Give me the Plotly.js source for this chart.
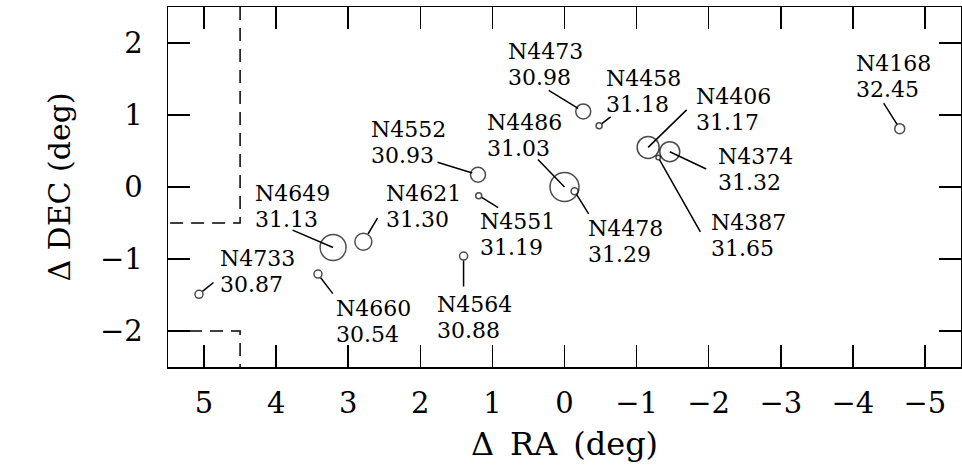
<!DOCTYPE html>
<html>
<head>
<meta charset="utf-8">
<script src="https://cdn.plot.ly/plotly-3.0.1.min.js"></script>
<style>
  html, body { margin: 0; padding: 0; background: #fff; }
  #chart { width: 962px; height: 466px; }
</style>
</head>
<body>
<div id="chart"></div>
<script>
// Galaxies around M87: offsets in RA / DEC (deg) from N4486
const galaxy = ['N4486','N4478','N4551','N4552','N4649','N4621','N4473','N4458',
                'N4406','N4374','N4387','N4168','N4733','N4660','N4564'];
const distMod = ['31.03','31.29','31.19','30.93','31.13','31.30','30.98','31.18',
                 '31.17','31.32','31.65','32.45','30.87','30.54','30.88'];
const dRA  = [0.00, -0.14, 1.19, 1.20, 3.21, 2.79, -0.26, -0.48,
              -1.16, -1.46, -1.30, -4.65, 5.07, 3.42, 1.40];
const dDEC = [0.00, -0.06, -0.12, 0.17, -0.84, -0.76, 1.05, 0.85,
              0.55, 0.49, 0.41, 0.81, -1.49, -1.21, -0.96];
// circle diameter used for each galaxy symbol (px)
const symbolSize = [29, 7, 6, 15, 26, 17, 15, 6, 22, 20, 4.5, 10, 8, 8, 8];

// survey boundary (dashed)
const edgeUpperRA  = [4.5, 4.5, 5.5];
const edgeUpperDEC = [2.5, -0.5, -0.5];
const edgeLowerRA  = [5.5, 4.5, 4.5];
const edgeLowerDEC = [-2.0, -2.0, -2.5];

const xTicks = [5, 4, 3, 2, 1, 0, -1, -2, -3, -4, -5];
const yTicks = [-2, -1, 0, 1, 2];

// label placement, px relative to the galaxy: [dx, dy] of the name's top-left
const labelAt = [[-78,-72],[13,30],[1,19],[-107,-52],[-78,-61],[23,-55],[-75,-67],[7,-54],
                 [48,-58],[48,-2],[53,58],[-44,-72],[21,-43],[18,27],[-27,41]];
// leader lines: [ax, ay] of the label end, and gap left at the galaxy end
const leaderTail = [[-28,-29],[15,24],[21,13],[-42,-13],[-42,-18],[15,-25],[-36,-22],[13,-10],
                    [40,-39],[38,18],[43,76],[-17,-27],[16,-13],[16,21],[0,32]];
const leaderGap = [0, 4, 3.5, 6, 0, 9, 6, 3.5, 0, 0, 2.5, 5, 4.5, 4.5, 4.5];

const serif = 'DejaVu Serif';
const ink = '#000';

const traces = [
  { x: edgeUpperRA, y: edgeUpperDEC, mode: 'lines', hoverinfo: 'skip',
    line: { color: ink, width: 1.5, dash: '13px,8px' } },
  { x: edgeLowerRA, y: edgeLowerDEC, mode: 'lines', hoverinfo: 'skip',
    line: { color: ink, width: 1.5, dash: '13px,8px' } },
  { x: dRA, y: dDEC, text: galaxy, mode: 'markers',
    marker: { symbol: 'circle-open', size: symbolSize, color: ink,
              line: { color: ink, width: 1.5 } } }
];

// two-line labels: glyphs at 22px, lines stepped just over one text box apart
// (line step is 1.3 x the annotation font size, so that size is step / 1.3)
const labelGlyph = 22;
const labelStep = 25.8;
const capOffset = 5.4;   // box top to cap top for the label glyphs
const big = s => `<span style="font-size:${labelGlyph}px">${s}</span>`;

const annotations = [];
galaxy.forEach((g, i) => {
  const [dx, dy] = labelAt[i];
  const [ax, ay] = leaderTail[i];
  annotations.push({
    x: dRA[i], y: dDEC[i], text: '', showarrow: true, arrowhead: 0,
    arrowwidth: 1.5, arrowcolor: ink, ax: ax, ay: ay, standoff: leaderGap[i]
  });
  annotations.push({
    x: dRA[i], y: dDEC[i], text: big(g) + '<br>' + big(distMod[i]),
    showarrow: false, align: 'left',
    xanchor: 'left', yanchor: 'top', xshift: dx - 2, yshift: -(dy - 2 - capOffset),
    font: { family: serif, size: labelStep / 1.3, color: ink }
  });
});

const axisCommon = {
  showgrid: false, zeroline: false,
  showline: true, linecolor: ink, linewidth: 1.5, mirror: 'ticks',
  ticks: 'inside', ticklen: 22, tickwidth: 1.5, tickcolor: ink,
  tickfont: { family: serif, size: 29, color: ink }
};

const layout = {
  width: 962, height: 466,
  margin: { l: 168, r: 1, t: 7, b: 99 },
  paper_bgcolor: '#fff', plot_bgcolor: '#fff',
  showlegend: false,
  xaxis: Object.assign({}, axisCommon, {
    range: [5.5, -5.5], tickvals: xTicks, ticklabelstandoff: 10,
    title: { text: 'Δ\u2002RA\u2002(deg)', font: { family: serif, size: 32, color: ink }, standoff: 13 }
  }),
  yaxis: Object.assign({}, axisCommon, {
    range: [-2.5, 2.5], tickvals: yTicks, ticklabelstandoff: 18,
    title: { text: 'Δ DEC (deg)', font: { family: serif, size: 30, color: ink }, standoff: 20 }
  }),
  annotations: annotations
};

Plotly.newPlot('chart', traces, layout, { displayModeBar: false, staticPlot: true });
</script>
</body>
</html>
